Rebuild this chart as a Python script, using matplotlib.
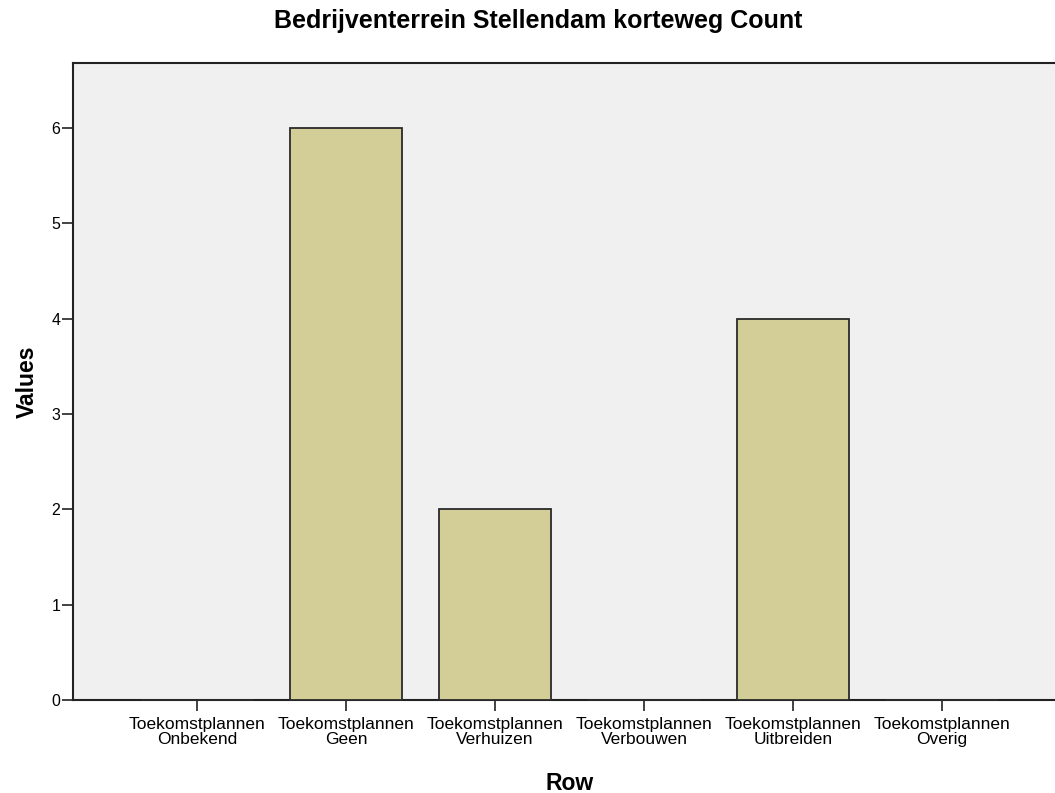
import matplotlib
matplotlib.use("Agg")
import matplotlib.pyplot as plt
import numpy as np

plt.rcParams['font.family'] = ['Liberation Sans', 'DejaVu Sans']

categories = ["Toekomstplannen\nOnbekend", "Toekomstplannen\nGeen",
              "Toekomstplannen\nVerhuizen", "Toekomstplannen\nVerbouwen",
              "Toekomstplannen\nUitbreiden", "Toekomstplannen\nOverig"]
counts = [0, 6, 2, 0, 4, 0]
yticks = [0, 1, 2, 3, 4, 5, 6]

fig = plt.figure(figsize=(10.55, 7.93), dpi=100)
ax = fig.add_axes([73/1055, 93/793, 993/1055, 637/793])
ax.set_facecolor('#f0f0f0')

x = np.arange(len(categories))
ax.bar(x, counts, width=0.75, color='#d3ce97', edgecolor='#2a2a2a',
       linewidth=1.3, zorder=3, clip_on=False)

ax.set_xlim(-0.832, len(categories) - 1 + 0.832)
ax.set_ylim(0, 6.68)
ax.set_xticks(x)
ax.set_xticklabels(categories, fontsize=12.5, linespacing=1.0)
ax.set_yticks(yticks)
ax.tick_params(axis='both', direction='out', length=8, width=1.2, color='#222222')
ax.tick_params(axis='y', labelsize=11.5, pad=1)
ax.tick_params(axis='x', pad=4)

for s in ['left', 'bottom', 'top']:
    ax.spines[s].set_linewidth(1.5)
    ax.spines[s].set_color('#222222')
ax.spines['right'].set_visible(False)

ax.set_ylabel('Values', fontsize=16.5, fontweight='bold', labelpad=9)
ax.set_xlabel('Row', fontsize=16.5, fontweight='bold', labelpad=18)
fig.text(538/1055, 1 - 21/793, 'Bedrijventerrein Stellendam korteweg Count',
         ha='center', va='center', fontsize=18, fontweight='bold')

fig.savefig('out.png', dpi=100)
